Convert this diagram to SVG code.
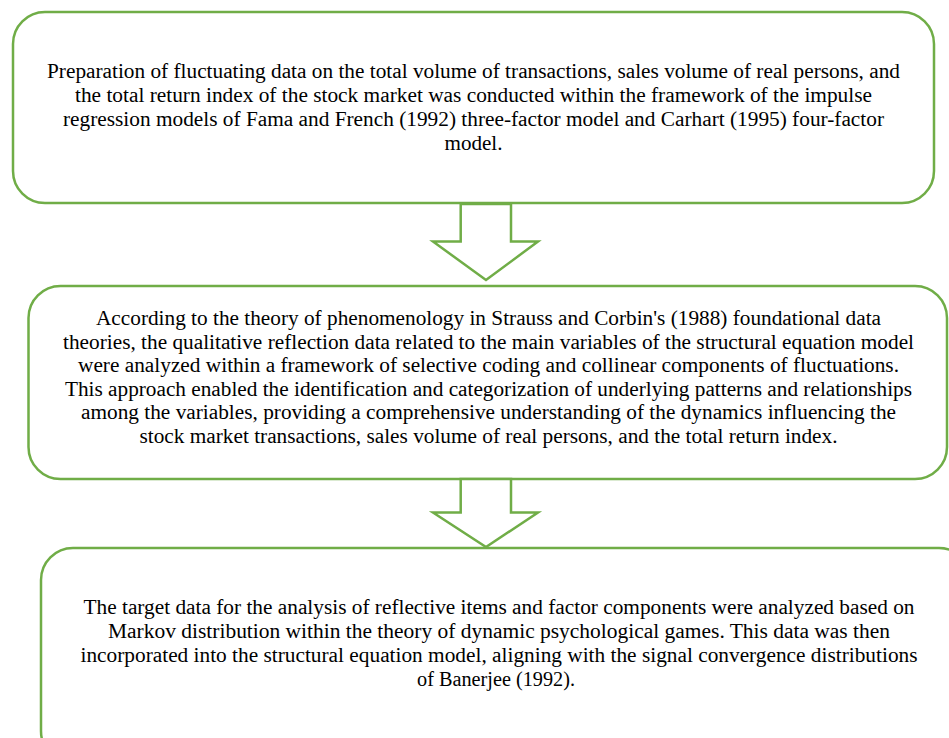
<svg xmlns="http://www.w3.org/2000/svg" width="949" height="738" viewBox="0 0 949 738">
<style>
.box{fill:#fff;stroke:#70AD47;stroke-width:2.5}
.arr{fill:#fff;stroke:#70AD47;stroke-width:2.5;stroke-linejoin:miter}
.t{font-family:'Liberation Serif','DejaVu Serif',serif;font-size:20px;fill:#000;text-anchor:middle}
</style>
<rect width="949" height="738" fill="#fff"/>
<g id="node1">
<rect class="box" x="13" y="12" width="921" height="191" rx="32" ry="32"/>
<text class="t" font-family="Liberation Serif, serif" x="473.5" y="77.5" textLength="853" lengthAdjust="spacingAndGlyphs">Preparation of fluctuating data on the total volume of transactions, sales volume of real persons, and</text>
<text class="t" font-family="Liberation Serif, serif" x="473.5" y="101.5" textLength="797" lengthAdjust="spacingAndGlyphs">the total return index of the stock market was conducted within the framework of the impulse</text>
<text class="t" font-family="Liberation Serif, serif" x="473.5" y="125.5" textLength="821" lengthAdjust="spacingAndGlyphs">regression models of Fama and French (1992) three-factor model and Carhart (1995) four-factor</text>
<text class="t" font-family="Liberation Serif, serif" x="473.5" y="150" textLength="58" lengthAdjust="spacingAndGlyphs">model.</text>
</g>
<g id="node2">
<rect class="box" x="28.5" y="286" width="918.5" height="193" rx="32" ry="32"/>
<text class="t" font-family="Liberation Serif, serif" x="488.5" y="325" textLength="785" lengthAdjust="spacingAndGlyphs">According to the theory of phenomenology in Strauss and Corbin's (1988) foundational data</text>
<text class="t" font-family="Liberation Serif, serif" x="488.5" y="348.5" textLength="851" lengthAdjust="spacingAndGlyphs">theories, the qualitative reflection data related to the main variables of the structural equation model</text>
<text class="t" font-family="Liberation Serif, serif" x="488.5" y="372" textLength="821" lengthAdjust="spacingAndGlyphs">were analyzed within a framework of selective coding and collinear components of fluctuations.</text>
<text class="t" font-family="Liberation Serif, serif" x="488.5" y="395.5" textLength="847" lengthAdjust="spacingAndGlyphs">This approach enabled the identification and categorization of underlying patterns and relationships</text>
<text class="t" font-family="Liberation Serif, serif" x="488.5" y="419" textLength="815" lengthAdjust="spacingAndGlyphs">among the variables, providing a comprehensive understanding of the dynamics influencing the</text>
<text class="t" font-family="Liberation Serif, serif" x="488.5" y="442.5" textLength="698" lengthAdjust="spacingAndGlyphs">stock market transactions, sales volume of real persons, and the total return index.</text>
</g>
<g id="node3">
<rect class="box" x="41" y="548" width="930" height="215" rx="32" ry="32"/>
<text class="t" font-family="Liberation Serif, serif" x="499" y="613.5" textLength="831" lengthAdjust="spacingAndGlyphs">The target data for the analysis of reflective items and factor components were analyzed based on</text>
<text class="t" font-family="Liberation Serif, serif" x="499" y="637.5" textLength="782" lengthAdjust="spacingAndGlyphs">Markov distribution within the theory of dynamic psychological games. This data was then</text>
<text class="t" font-family="Liberation Serif, serif" x="499" y="661.5" textLength="837" lengthAdjust="spacingAndGlyphs">incorporated into the structural equation model, aligning with the signal convergence distributions</text>
<text class="t" font-family="Liberation Serif, serif" x="496" y="685.5" textLength="158" lengthAdjust="spacingAndGlyphs">of Banerjee (1992).</text>
</g>
<g id="connectors">
<polygon class="arr" points="460.7,204 511,204 511,241.5 538,241.5 486,280 433,241.5 460.7,241.5"/>
<polygon class="arr" points="460.7,479 511,479 511,512.5 538,512.5 486,547 433,512.5 460.7,512.5"/>
</g>
</svg>
